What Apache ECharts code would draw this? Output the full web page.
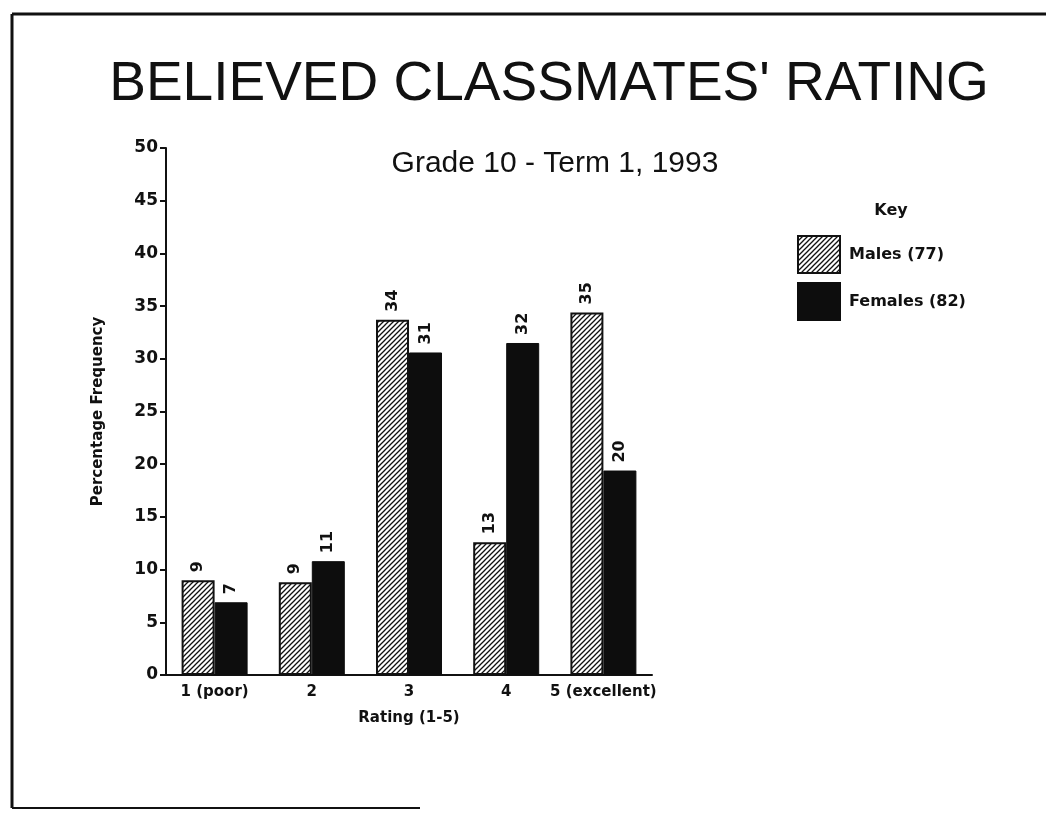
<!DOCTYPE html>
<html>
<head>
<meta charset="utf-8">
<script src="https://cdn.jsdelivr.net/npm/echarts@6/dist/echarts.min.js"></script>
<style>
  html, body { margin: 0; padding: 0; background: #fff; }
  #chart { width: 1046px; height: 813px; }
</style>
</head>
<body>
<div id="chart"></div>
<script>
// chart data
var categories = ['1 (poor)', '2', '3', '4', '5 (excellent)'];
var males = [9, 8.8, 33.7, 12.6, 34.4];
var females = [6.9, 10.8, 30.6, 31.5, 19.4];
// numbers printed above the bars
var maleLabels = [9, 9, 34, 13, 35];
var femaleLabels = [7, 11, 31, 32, 20];
var seriesNames = ['Males (77)', 'Females (82)'];
var yTicks = [0, 5, 10, 15, 20, 25, 30, 35, 40, 45, 50];

// diagonal hatch pattern for the males bars
function makeHatch() {
    var c = document.createElement('canvas');
    c.width = 5;
    c.height = 5;
    var ctx = c.getContext('2d');
    ctx.fillStyle = '#ffffff';
    ctx.fillRect(0, 0, 5, 5);
    ctx.strokeStyle = '#111111';
    ctx.lineWidth = 1.3;
    ctx.beginPath();
    ctx.moveTo(-1, 6); ctx.lineTo(6, -1);
    ctx.moveTo(-4, 4); ctx.lineTo(4, -4);
    ctx.moveTo(1, 9); ctx.lineTo(9, 1);
    ctx.stroke();
    return c;
}
var hatch = { image: makeHatch(), repeat: 'repeat' };

var boldFont = 'DejaVu Sans';

var chartDom = document.getElementById('chart');
var myChart = echarts.init(chartDom);

var option = {
    backgroundColor: '#ffffff',
    animation: false,
    title: [
        {
            text: "BELIEVED CLASSMATES' RATING",
            left: 544,
            top: 52,
            textAlign: 'center',
            textStyle: { fontFamily: 'Liberation Sans', fontSize: 55, fontWeight: 'normal', color: '#111' }
        },
        {
            text: 'Grade 10 - Term 1, 1993',
            left: 550,
            top: 144,
            textAlign: 'center',
            textStyle: { fontFamily: 'Liberation Sans', fontSize: 30, fontWeight: 'normal', color: '#111' }
        },
        {
            text: 'Key',
            left: 886,
            top: 198,
            textAlign: 'center',
            textStyle: { fontFamily: boldFont, fontSize: 16, fontWeight: 'bold', color: '#111' }
        }
    ],
    legend: {
        data: seriesNames,
        orient: 'vertical',
        left: 792,
        top: 230,
        itemWidth: 42,
        itemHeight: 37,
        itemGap: 8,
        icon: 'rect',
        textStyle: { fontFamily: boldFont, fontSize: 16, fontWeight: 'bold', color: '#111', padding: [0, 0, 0, 4] }
    },
    grid: { left: 166, width: 486, top: 148, bottom: 138 },
    xAxis: {
        type: 'category',
        data: categories,
        name: 'Rating (1-5)',
        nameLocation: 'middle',
        nameGap: 36,
        nameTextStyle: { fontFamily: boldFont, fontSize: 15, fontWeight: 'bold', color: '#111' },
        axisLine: { lineStyle: { color: '#111', width: 2 } },
        axisTick: { alignWithLabel: true, length: 6, lineStyle: { color: '#111', width: 2 } },
        axisLabel: { interval: 0, fontFamily: boldFont, fontSize: 15, fontWeight: 'bold', color: '#111', margin: 10 }
    },
    yAxis: {
        type: 'value',
        min: yTicks[0],
        max: yTicks[yTicks.length - 1],
        interval: 5,
        name: 'Percentage Frequency',
        nameLocation: 'middle',
        nameGap: 60,
        nameRotate: 90,
        nameTextStyle: { fontFamily: boldFont, fontSize: 15, fontWeight: 'bold', color: '#111' },
        splitLine: { show: false },
        axisLine: { show: true, lineStyle: { color: '#111', width: 2 } },
        axisTick: { show: true, length: 6, lineStyle: { color: '#111', width: 2 } },
        axisLabel: { fontFamily: boldFont, fontSize: 17, fontWeight: 'bold', color: '#111', margin: 8 }
    },
    series: [
        {
            name: seriesNames[0],
            type: 'bar',
            data: males,
            barWidth: 33,
            barGap: '0%',
            itemStyle: { color: hatch, borderColor: '#111', borderWidth: 2 },
            label: {
                show: true,
                position: 'top',
                rotate: 90,
                align: 'left',
                verticalAlign: 'middle',
                distance: 8,
                formatter: function (p) { return maleLabels[p.dataIndex]; },
                fontFamily: boldFont, fontSize: 16, fontWeight: 'bold', color: '#111'
            }
        },
        {
            name: seriesNames[1],
            type: 'bar',
            data: females,
            barWidth: 33,
            itemStyle: { color: '#0d0d0d', borderColor: '#0d0d0d', borderWidth: 1 },
            label: {
                show: true,
                position: 'top',
                rotate: 90,
                align: 'left',
                verticalAlign: 'middle',
                distance: 8,
                formatter: function (p) { return femaleLabels[p.dataIndex]; },
                fontFamily: boldFont, fontSize: 16, fontWeight: 'bold', color: '#111'
            }
        }
    ],
    // page frame lines
    graphic: [
        { type: 'line', shape: { x1: 12, y1: 14, x2: 1046, y2: 14 }, style: { stroke: '#111', lineWidth: 3 } },
        { type: 'line', shape: { x1: 12, y1: 14, x2: 12, y2: 808 }, style: { stroke: '#111', lineWidth: 3 } },
        { type: 'line', shape: { x1: 12, y1: 808, x2: 420, y2: 808 }, style: { stroke: '#111', lineWidth: 2 } }
    ]
};

option && myChart.setOption(option);
</script>
</body>
</html>
